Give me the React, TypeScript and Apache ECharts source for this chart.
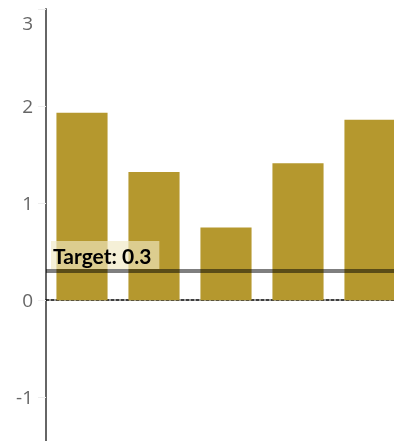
import React, { useEffect, useRef } from "react";
import * as echarts from "echarts";

const categories = ["A", "B", "C", "D", "E"];
const values = [1.93, 1.32, 0.75, 1.41, 1.86];
const targetValue = 0.3;
const yTicks = [-1, 0, 1, 2, 3];

export default function App() {
  const ref = useRef<HTMLDivElement>(null);
  useEffect(() => {
    if (!ref.current) return;
    const chart = echarts.init(ref.current, undefined, { renderer: "svg" });
    chart.setOption({
      animation: false,
      grid: { left: 46, right: 0, top: 9, bottom: 0, containLabel: false },
      xAxis: {
        type: "category",
        data: categories,
        axisLine: {
          show: true,
          onZero: true,
          lineStyle: { color: "#000", width: 1.5, type: [3, 2] },
        },
        axisTick: { show: false },
        axisLabel: { show: false },
        splitLine: { show: false },
      },
      yAxis: {
        type: "value",
        min: -1.45,
        max: 3,
        splitLine: { show: false },
        axisLine: { show: true, lineStyle: { color: "#666", width: 2 } },
        axisTick: {
          show: true,
          length: 8,
          customValues: yTicks,
          lineStyle: { color: "#eee", width: 1 },
        },
        axisLabel: {
          customValues: yTicks,
          margin: 13,
          color: "#666",
          fontSize: 19,
          fontFamily: "Open Sans",
          formatter: (v: number) => (v === 3 ? "{m|3}" : String(v)),
          rich: {
            m: {
              padding: [28, 0, 0, 0],
              color: "#666",
              fontSize: 19,
              fontFamily: "Open Sans",
            },
          },
        },
      },
      series: [
        {
          type: "bar",
          data: values,
          barCategoryGap: "29%",
          itemStyle: { color: "#B5982E" },
          markLine: {
            silent: true,
            symbol: "none",
            data: [{ yAxis: targetValue }],
            lineStyle: { color: "rgba(0,0,0,0.5)", width: 4, type: "solid" },
            label: {
              show: true,
              position: "insideStartTop",
              formatter: "Target: " + targetValue,
              color: "#000",
              fontWeight: "bold",
              fontSize: 21,
              fontFamily: "Lato",
              backgroundColor: "rgba(240,232,194,0.66)",
              padding: [4, 8, 3, 2],
              distance: [5, 2],
            },
          },
        },
      ],
    });
    return () => chart.dispose();
  }, []);
  return (
    <div
      ref={ref}
      style={{ position: "fixed", left: 0, top: 0, width: 406, height: 441 }}
    />
  );
}
